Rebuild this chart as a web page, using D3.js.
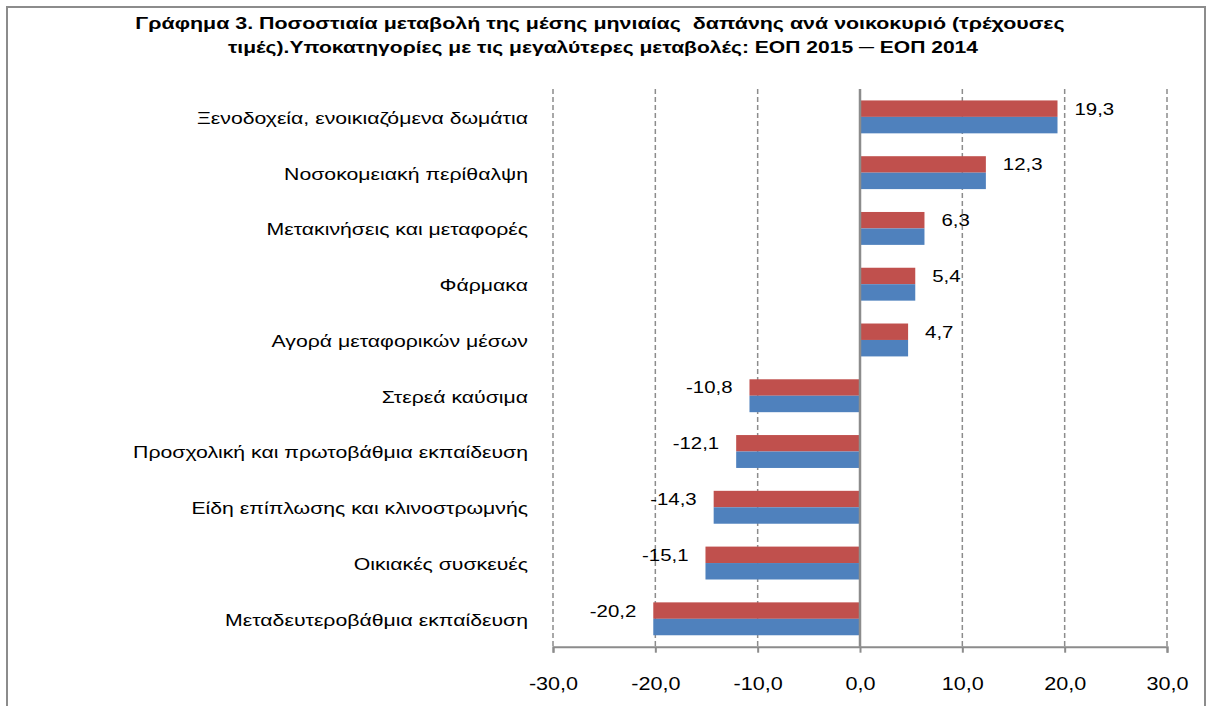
<!DOCTYPE html>
<html>
<head>
<meta charset="utf-8">
<script src="https://cdn.jsdelivr.net/npm/d3@7"></script>
<style>
  body { margin: 0; background: #fff; }
  text { font-family: "Liberation Sans", Arial, sans-serif; fill: #000; }
  .title { white-space: pre; }
</style>
</head>
<body>
<svg class="chart" width="1207" height="706"></svg>
<script>
let categories = [
	"Ξενοδοχεία, ενοικιαζόμενα δωμάτια",
	"Νοσοκομειακή περίθαλψη",
	"Μετακινήσεις και μεταφορές",
	"Φάρμακα",
	"Αγορά μεταφορικών μέσων",
	"Στερεά καύσιμα",
	"Προσχολική και πρωτοβάθμια εκπαίδευση",
	"Είδη επίπλωσης και κλινοστρωμνής",
	"Οικιακές συσκευές",
	"Μεταδευτεροβάθμια εκπαίδευση"
];
// two series, drawn red (top) and blue (bottom) in each category
let redValues = [19.3, 12.3, 6.3, 5.4, 4.7, -10.8, -12.1, -14.3, -15.1, -20.2];
let blueValues = [19.3, 12.3, 6.3, 5.4, 4.7, -10.8, -12.1, -14.3, -15.1, -20.2];
let tickValues = [-30, -20, -10, 0, 10, 20, 30];
let titleLines = [
	"Γράφημα 3. Ποσοστιαία μεταβολή της μέσης μηνιαίας  δαπάνης ανά νοικοκυριό (τρέχουσες",
	"τιμές).Υποκατηγορίες με τις μεγαλύτερες μεταβολές: ΕΟΠ 2015 ─ ΕΟΠ 2014"
];

const fmt = v => v.toFixed(1).replace(".", ",");
// the original export is a bit wide horizontally, so text gets stretched
const stretch = 1.2;

var svg = d3.select(".chart");
let margin = {left: 553, top: 89};
let innerWidth = 1167 - margin.left;
let innerHeight = 646.7 - margin.top;

// outer frame (bottom edge is cut off in the original)
svg.append("path")
   .attr("d", "M7,720 V7 H1205 V720")
   .attr("fill", "none")
   .attr("stroke", "#8c8c8c")
   .attr("stroke-width", 2);

svg.selectAll(".title")
   .data(titleLines)
   .enter().append("text")
   .attr("class", "title")
   .attr("transform", (d, i) => `translate(${i == 0 ? 600 : 603}, ${29 + i * 24}) scale(${i == 0 ? 1.26 : 1.24}, 1)`)
   .attr("text-anchor", "middle")
   .style("font-weight", "bold")
   .style("font-size", "17px")
   .text(d => d);

var xScale = d3.scaleLinear().domain([-30, 30]).range([0, innerWidth]);
var yScale = d3.scaleBand().domain(categories).range([0, innerHeight]).paddingInner(0.41).paddingOuter(0.205);
var sub = d3.scaleBand().domain(["red", "blue"]).range([0, yScale.bandwidth()]);

let g = svg.append("g").attr("transform", `translate(${margin.left}, ${margin.top})`);

// dashed gridlines
g.selectAll(".grid")
 .data(tickValues.filter(t => t !== 0))
 .enter().append("line")
 .attr("x1", d => xScale(d)).attr("x2", d => xScale(d))
 .attr("y1", 0).attr("y2", innerHeight)
 .attr("stroke", "#8c8c8c")
 .attr("stroke-width", 1.5)
 .attr("stroke-dasharray", "5,3");

let series = [["red", redValues, "#C0504D"], ["blue", blueValues, "#4F81BD"]];
series.forEach(s => {
	g.selectAll(".bar-" + s[0])
	 .data(s[1])
	 .enter().append("rect")
	 .attr("x", d => xScale(Math.min(0, d)))
	 .attr("y", (d, i) => yScale(categories[i]) + sub(s[0]))
	 .attr("width", d => Math.abs(xScale(d) - xScale(0)))
	 .attr("height", sub.bandwidth())
	 .attr("fill", s[2]);
});

// value labels beside the red bars
g.selectAll(".vlabel")
 .data(redValues)
 .enter().append("text")
 .attr("transform", (d, i) => {
 	let x = d >= 0 ? xScale(d) + 17 : xScale(d) - 17;
 	let y = yScale(categories[i]) + sub("red") + sub.bandwidth() / 2;
 	return `translate(${x}, ${y}) scale(${stretch}, 1)`;
 })
 .attr("dy", "0.35em")
 .attr("text-anchor", d => d >= 0 ? "start" : "end")
 .style("font-size", "17px")
 .text(d => fmt(d));

// category labels
g.selectAll(".cat")
 .data(categories)
 .enter().append("text")
 .attr("transform", d => `translate(${528 - margin.left}, ${yScale(d) + yScale.bandwidth() / 2 + 1}) scale(1.25, 1)`)
 .attr("dy", "0.35em")
 .attr("text-anchor", "end")
 .style("font-size", "17px")
 .text(d => d);

// x axis
let xAxis = g.append("g")
 .attr("transform", `translate(0, ${innerHeight})`)
 .call(d3.axisBottom(xScale).tickValues(tickValues).tickSize(6).tickFormat(fmt).tickPadding(0));
xAxis.select(".domain").attr("stroke", "#8c8c8c").attr("stroke-width", 2);
xAxis.selectAll(".tick line").attr("stroke", "#8c8c8c").attr("stroke-width", 2);
xAxis.selectAll(".tick text")
 .attr("y", 0).attr("dy", 0)
 .attr("transform", `translate(0, 43) scale(${stretch}, 1)`)
 .style("font-family", "'Liberation Sans', Arial, sans-serif")
 .style("font-size", "18px")
 .attr("fill", "#000");

// zero line
g.append("line")
 .attr("x1", xScale(0)).attr("x2", xScale(0))
 .attr("y1", 0).attr("y2", innerHeight)
 .attr("stroke", "#8c8c8c")
 .attr("stroke-width", 2.5);
</script>
</body>
</html>
